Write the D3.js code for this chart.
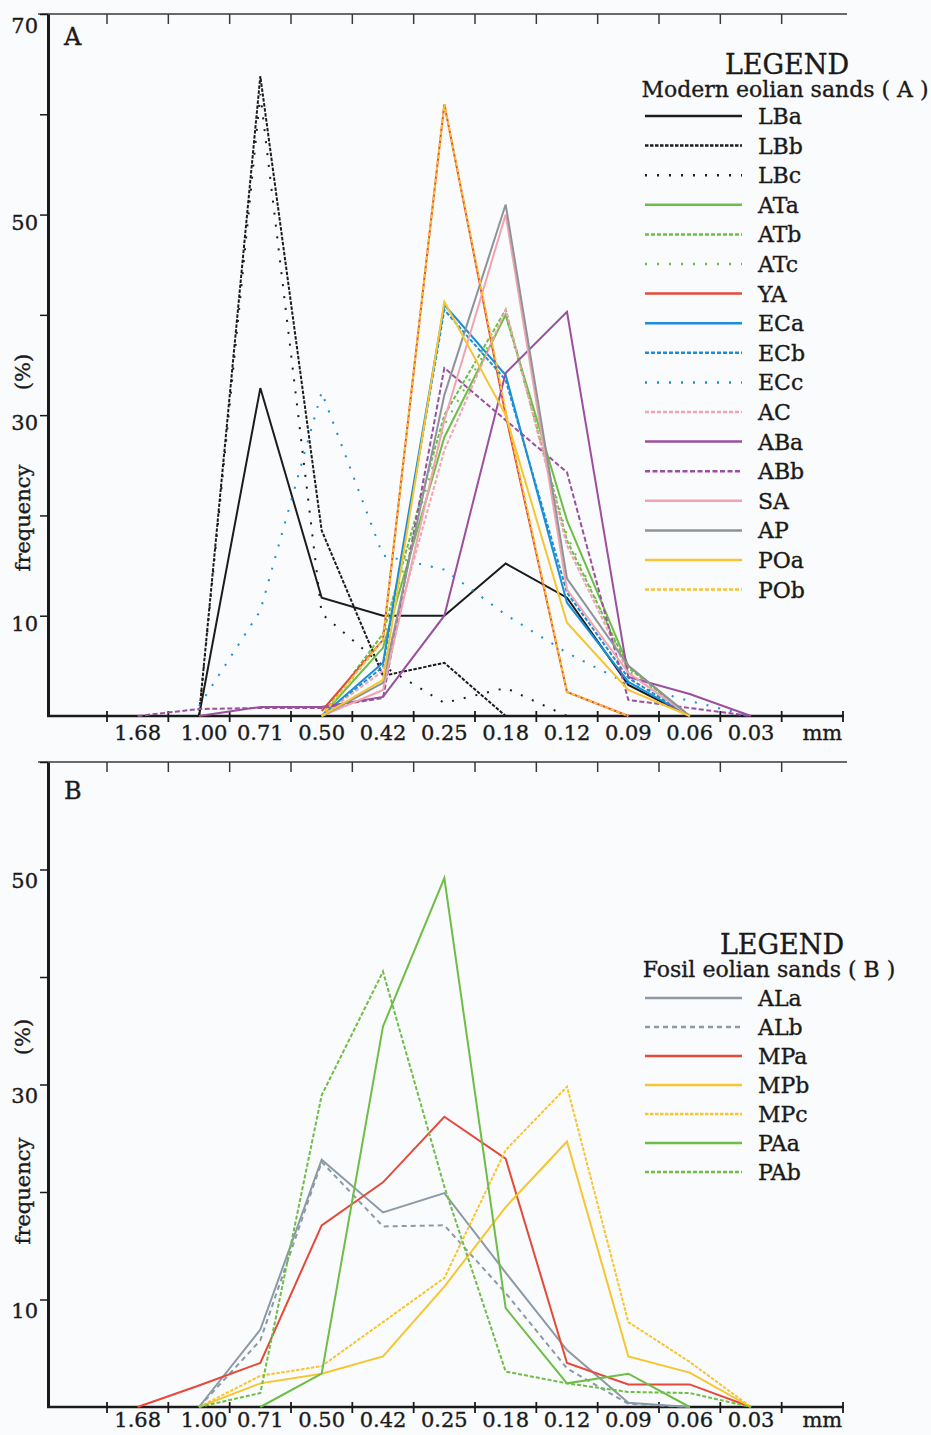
<!DOCTYPE html>
<html>
<head>
<meta charset="utf-8">
<script src="https://cdn.jsdelivr.net/npm/d3@7"></script>
<style>
  body { margin: 0; background: #fafbfd; }
  svg text { font-family: "DejaVu Serif", "Liberation Serif", serif; fill: #1a1a1a; stroke: #1a1a1a; stroke-width: 0.35px; }
</style>
</head>
<body>
<div id="chart"></div>
<script>
// grain size classes (mm), one band per class
const sizeClasses = ['1.68', '1.00', '0.71', '0.50', '0.42', '0.25', '0.18', '0.12', '0.09', '0.06', '0.03', 'mm'];

// A - modern eolian sands, frequency (%) per size class, null = no point
const LBa = [null, 0, 32.7, 11.8, 10, 10, 15.2, 11.8, 3.1, 0, null];
const LBb = [null, 0, 63.8, 18.5, 4, 5.3, 0, null, null, null, null];
const LBc = [null, 0, 62, 10.2, 5, 1.3, 2.8, 0, null, null, null];
const ATa = [null, null, null, 0, 6.8, 27.8, 40, 19.5, 5, 0, null];
const ATb = [null, null, null, 0, 8.2, 30, 40.5, 17.5, 4.8, 0, null];
const ATc = [null, null, null, 0, 7.5, 29, 40, 18, 4.5, 0, null];
const YA = [null, null, null, 0.5, 7.6, 61, 30, 2.4, 0, null, null];
const ECa = [null, null, null, 0, 5.3, 41, 34, 11.3, 3.4, 0, null];
const ECb = [null, null, null, 0, 4.9, 40.5, 33.5, 12.3, 3.8, 0, null];
const ECc = [null, 1, 10.5, 32.3, 16, 14.6, 10.1, 6.3, 3.2, 1.5, 0];
const AC = [null, null, null, 0, 4.5, 26.5, 40.5, 17, 4.3, 0, null];
const ABa = [null, 0, 0.9, 0.9, 1.9, 10, 34.2, 40.3, 3.9, 2.2, 0];
const ABb = [0, 0.7, 0.8, 0.8, 1.8, 34.7, 29.5, 24.3, 1.6, 0.8, 0];
const SA = [null, null, null, 0, 2.6, 29.5, 50, 12.6, 4.3, 0, null];
const AP = [null, null, null, 0, 3.3, 32, 51, 13.7, 5, 0, null];
const POa = [null, null, null, 0, 3.6, 41.3, 30, 9.3, 2.6, 0, null];
const POb = [null, null, null, 0, 7.6, 61, 30.5, 2.4, 0, null, null];

// B - fossil eolian sands
const ALa = [null, 0, 7.2, 23, 18.1, 19.9, 12.5, 5.3, 0.4, 0, null];
const ALb = [null, 0, 6.2, 22.8, 16.8, 16.9, 10.6, 3.6, 0.3, 0, null];
const MPa = [0, 2, 4.1, 16.9, 20.9, 27, 23.1, 4.1, 2.1, 2.1, 0];
const MPb = [null, 0, 2.2, 3.1, 4.7, 11.2, 18.6, 24.7, 4.7, 3.2, 0];
const MPc = [null, 0, 2.9, 3.8, 7.9, 12, 23.9, 29.8, 7.9, 4.2, 0];
const PAa = [null, null, 0, 3.1, 35.4, 49.2, 9.2, 2.2, 3.1, 0, null];
const PAb = [null, 0, 1.3, 29, 40.5, 20.5, 3.3, 2.2, 1.4, 1.3, 0];

const modernNames = ['LBa', 'LBb', 'LBc', 'ATa', 'ATb', 'ATc', 'YA', 'ECa', 'ECb', 'ECc', 'AC', 'ABa', 'ABb', 'SA', 'AP', 'POa', 'POb'];
const modernValues = [LBa, LBb, LBc, ATa, ATb, ATc, YA, ECa, ECb, ECc, AC, ABa, ABb, SA, AP, POa, POb];
const fossilNames = ['ALa', 'ALb', 'MPa', 'MPb', 'MPc', 'PAa', 'PAb'];
const fossilValues = [ALa, ALb, MPa, MPb, MPc, PAa, PAb];

// line styles
const black = '#1c1c1c', green = '#6dbd46', red = '#e5493a', blue = '#1b8ed6',
  pink = '#f1a4ad', purple = '#9a4f9f', grey = '#8c9399', yellow = '#f6c530', slate = '#8b9aa6';
const dashed = '4,2', dotted = '2,10';
const styles = {
  LBa: [black, null], LBb: [black, '3.5,1.5'], LBc: [black, dotted],
  ATa: [green, null], ATb: [green, dashed], ATc: [green, dotted],
  YA: [red, null],
  ECa: [blue, null], ECb: [blue, dashed], ECc: [blue, dotted],
  AC: [pink, dashed],
  ABa: [purple, null], ABb: [purple, '5,2.5'],
  SA: [pink, null], AP: [grey, null],
  POa: [yellow, null], POb: [yellow, dashed],
  ALa: [slate, null], ALb: [slate, '5,4'],
  MPa: [red, null], MPb: [yellow, null], MPc: [yellow, '3.5,1.5'],
  PAa: [green, null], PAb: [green, dashed]
};

const svg = d3.select('#chart').append('svg')
  .attr('width', 931)
  .attr('height', 1435);

const x = d3.scaleBand()
  .domain(sizeClasses)
  .range([107, 843]);

function drawPanel(p) {
  const y = d3.scaleLinear()
    .domain([0, p.yMax])
    .range([p.bottom, p.top]);

  const g = svg.append('g');

  // frame top with inward ticks
  g.append('line')
    .attr('x1', 38).attr('x2', 847)
    .attr('y1', p.top).attr('y2', p.top)
    .attr('stroke', '#3a3a3a').attr('stroke-width', 1.5);

  const bounds = sizeClasses.map((d) => x(d)).concat([x.range()[1]]);
  g.selectAll('.top-tick')
    .data(bounds.slice(0, -1))
    .join('line')
    .attr('x1', (d) => d).attr('x2', (d) => d)
    .attr('y1', p.top).attr('y2', p.top + 10)
    .attr('stroke', '#3a3a3a').attr('stroke-width', 1.5);

  // y axis
  const yAxis = d3.axisLeft(y)
    .tickValues(d3.range(10, p.yMax + 1, 10))
    .tickSize(8)
    .tickSizeOuter(0)
    .tickPadding(2)
    .tickFormat((d) => p.labeled.includes(d) ? d : '');

  const ya = g.append('g')
    .attr('transform', 'translate(48,0)')
    .call(yAxis);
  ya.select('.domain').attr('stroke', '#1a1a1a').attr('stroke-width', 3);
  ya.selectAll('.tick line').attr('stroke', '#1a1a1a').attr('stroke-width', 1.5);
  ya.selectAll('.tick text')
    .attr('font-size', 21)
    .attr('font-family', '"DejaVu Serif", serif')
    .attr('fill', '#1a1a1a')
    .attr('transform', (d) => `translate(0,${d === p.yMax ? p.yLabelShift + 4 : p.yLabelShift})`);

  // x axis
  g.append('line')
    .attr('x1', 47).attr('x2', 844)
    .attr('y1', p.bottom).attr('y2', p.bottom)
    .attr('stroke', '#1a1a1a').attr('stroke-width', 2.5);

  g.selectAll('.bottom-tick')
    .data(bounds)
    .join('line')
    .attr('x1', (d) => d).attr('x2', (d) => d)
    .attr('y1', p.bottom - 5).attr('y2', p.bottom + 6)
    .attr('stroke', '#1a1a1a').attr('stroke-width', 1.8);

  const xa = g.append('g')
    .attr('transform', `translate(0,${p.bottom})`)
    .call(d3.axisBottom(x).tickSize(0).tickPadding(p.xLabelGap));
  xa.select('.domain').remove();
  xa.selectAll('.tick text')
    .attr('font-size', 21)
    .attr('font-family', '"DejaVu Serif", serif')
    .attr('fill', '#1a1a1a')
    .attr('dx', (d) => d === 'mm' ? 10 : (d === '1.00' ? 5 : 0));

  // axis title
  g.append('text')
    .attr('transform', `translate(30,${p.pctY}) rotate(-90)`)
    .attr('text-anchor', 'middle')
    .attr('font-size', 21)
    .text('(%)');
  g.append('text')
    .attr('transform', `translate(30,${p.freqY}) rotate(-90)`)
    .attr('text-anchor', 'middle')
    .attr('font-size', 21)
    .text('frequency');

  g.append('text')
    .attr('x', 64).attr('y', p.top + p.letterY)
    .attr('font-size', 24)
    .text(p.letter);

  // curves
  const line = d3.line()
    .defined((d) => d != null)
    .x((d, i) => x(sizeClasses[i]) + x.bandwidth() / 2)
    .y((d) => y(d));

  g.selectAll('.curve')
    .data(p.names)
    .join('path')
    .attr('class', 'curve')
    .attr('d', (d, i) => line(p.values[i]))
    .attr('fill', 'none')
    .attr('stroke', (d) => styles[d][0])
    .attr('stroke-width', 2)
    .attr('stroke-dasharray', (d) => styles[d][1])
    .attr('stroke-linejoin', 'miter');

  // legend
  const lg = g.append('g');
  lg.append('text')
    .attr('x', p.legendX).attr('y', p.legendTop)
    .attr('text-anchor', 'middle')
    .attr('font-size', 27)
    .text('LEGEND');
  lg.append('text')
    .attr('x', p.subX).attr('y', p.legendTop + 23)
    .attr('text-anchor', 'middle')
    .attr('font-size', 22)
    .text(p.subtitle);

  const rows = lg.selectAll('.row')
    .data(p.names)
    .join('g')
    .attr('transform', (d, i) => `translate(0,${p.rowTop + i * p.rowStep})`);
  rows.append('line')
    .attr('x1', 645).attr('x2', 742)
    .attr('stroke', (d) => styles[d][0])
    .attr('stroke-width', 2.5)
    .attr('stroke-dasharray', (d) => styles[d][1]);
  rows.append('text')
    .attr('x', 758)
    .attr('dy', '0.36em')
    .attr('font-size', 22)
    .text((d) => d);
}

drawPanel({
  top: 14, bottom: 716, yMax: 70, labeled: [10, 30, 50, 70],
  yLabelShift: 8, xLabelGap: 9, pctY: 372, freqY: 518,
  letter: 'A', letterY: 31,
  names: modernNames, values: modernValues,
  legendX: 787, subX: 785, legendTop: 74, subtitle: 'Modern eolian sands ( A )',
  rowTop: 116, rowStep: 29.6
});

drawPanel({
  top: 762, bottom: 1407, yMax: 60, labeled: [10, 30, 50],
  yLabelShift: 11, xLabelGap: 5, pctY: 1037, freqY: 1191,
  letter: 'B', letterY: 37,
  names: fossilNames, values: fossilValues,
  legendX: 782, subX: 769, legendTop: 954, subtitle: 'Fosil eolian sands ( B )',
  rowTop: 998, rowStep: 29
});
</script>
</body>
</html>
